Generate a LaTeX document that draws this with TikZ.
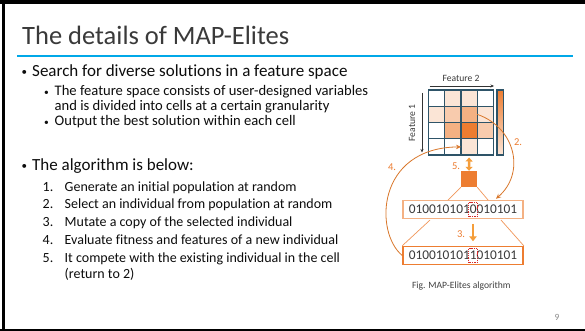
\documentclass[tikz,border=0pt]{standalone}
\usepackage{fontspec}
\setmainfont{Carlito}[Ligatures={NoCommon,NoRequired,NoContextual}]
\usetikzlibrary{arrows.meta,calc}

\definecolor{accent}{HTML}{ED7D31}
\definecolor{peachA}{HTML}{FBE5D6}
\definecolor{peachB}{HTML}{F8CBAD}
\definecolor{peachC}{HTML}{F4B183}
\definecolor{gridc}{HTML}{2E5468}
\definecolor{rulec}{HTML}{00A8E8}
\definecolor{titlec}{HTML}{3A3A3A}
\definecolor{bodyc}{HTML}{0D0D0D}
\definecolor{arrowc}{HTML}{D9772B}
\definecolor{blockc}{HTML}{F59E3B}
\definecolor{markc}{HTML}{D42A2A}
\definecolor{captc}{HTML}{404040}
\definecolor{pagec}{HTML}{8C8C8C}

\tikzset{
  txt/.style={anchor=base west, inner sep=0pt, text=bodyc},
  titletext/.style={txt, text=titlec, font=\fontsize{26.5}{30}\selectfont},
  lvlone/.style={txt, font=\fontsize{17}{20}\selectfont},
  lvltwo/.style={txt, font=\fontsize{14.6}{17}\selectfont},
  lvlnum/.style={txt, font=\fontsize{14}{17}\selectfont},
  dotone/.style={txt, font=\fontsize{11}{13}\selectfont},
  dottwo/.style={txt, font=\fontsize{9.5}{11}\selectfont},
  cell/.style={draw=gridc, line width=1.4pt, minimum size=16.25pt, inner sep=0pt, outer sep=0pt},
  bitbox/.style={minimum width=120pt, minimum height=18pt, inner sep=0pt, fill=white,
    line width=1.5pt, font=\fontsize{13.35}{15}\selectfont, text=titlec},
  smalllab/.style={inner sep=0pt, font=\fontsize{9.6}{11}\selectfont, text=titlec},
  steplab/.style={inner sep=0pt, font=\fontsize{10.5}{12}\selectfont, text=accent},
  axisarrow/.style={draw=black!80, line width=0.7pt, -{Stealth[length=3.5pt,width=3pt]}},
  flow/.style={draw=arrowc, line width=0.8pt, -{Stealth[length=5pt,width=4.5pt]}},
  blockarrow/.style={draw=blockc, line width=2.6pt, -{Triangle[width=7.5pt,length=5pt]}},
  dblarrow/.style={draw=blockc, line width=2.4pt, {Triangle[width=7pt,length=4pt]}-{Triangle[width=7pt,length=4pt]}},
  zoomline/.style={draw=accent!80, line width=0.7pt},
  markbox/.style={draw=markc, line width=0.6pt, dash pattern=on 1.3pt off 0.9pt},
}

\begin{document}
\begin{tikzpicture}[x=1pt, y=-1pt]
\useasboundingbox (0,0) rectangle (585,331);
\fill[white] (0,0) rectangle (585,331);

% slide frame and title rule
\fill[black] (0,0) rectangle (585,4);
\fill[black] (2,0) rectangle (4.5,331);
\fill[black] (0,328.5) rectangle (585,330.5);
\fill[rulec] (17,55) rectangle (573,57.5);

% title
\node[titletext] (title) at (22,45) {The details of MAP-Elites};

% first bullet group
\node[dotone] (b1dot) at (21.5,75.5) {•};
\node[lvlone] (b1txt) at (32,76.5) {Search for diverse solutions in a feature space};
\node[dottwo] (s1dot) at (44,95.3) {•};
\node[lvltwo] (s1txt) at (54.5,96) {The feature space consists of user-designed variables};
\node[lvltwo] (s1cont) at (54.5,111) {and is divided into cells at a certain granularity};
\node[dottwo] (s2dot) at (44,125.3) {•};
\node[lvltwo] (s2txt) at (54.5,126) {Output the best solution within each cell};

% second bullet group
\node[dotone] (b2dot) at (21.5,169.5) {•};
\node[lvlone] (b2txt) at (32,170.5) {The algorithm is below:};
\foreach \n/\yy/\t in {1/191.5/Generate an initial population at random,
                       2/208.5/Select an individual from population at random,
                       3/226.5/Mutate a copy of the selected individual,
                       4/244.5/Evaluate fitness and features of a new individual,
                       5/262.5/It compete with the existing individual in the cell}{
  \node[lvlnum] (num\n) at (42.5,\yy) {\n.};
  \node[lvlnum] (item\n) at (64.5,\yy) {\t};
}
\node[lvlnum] (item5b) at (64.5,278.5) {(return to 2)};

% feature map grid
\foreach \r/\c/\f in {1/1/white,1/2/peachA,1/3/peachA,1/4/white,
                      2/1/peachA,2/2/peachB,2/3/peachC,2/4/peachA,
                      3/1/white,3/2/peachC,3/3/accent,3/4/peachB,
                      4/1/white,4/2/white,4/3/peachA,4/4/white}{
  \node[cell, fill=\f] (c\r\c) at ({428.5+(\c-0.5)*16.25},{90+(\r-0.5)*16.25}) {};
}
\node[draw=gridc, line width=1.2pt, minimum width=6.5pt, minimum height=65pt, inner sep=0pt,
      top color=accent, bottom color=peachA] (bar) at (500.3,122.5) {};

% axes
\node[smalllab] (f2) at (461,78.5) {Feature 2};
\coordinate (f2a) at ($(c11.north west)+(1,-4)$);
\coordinate (f2b) at ($(c14.north east)+(0.5,-4)$);
\draw[axisarrow] (f2a) -- (f2b);
\node[smalllab, rotate=90] (f1) at (412,123) {Feature 1};
\coordinate (f1a) at ($(c11.north west)+(-6.5,3)$);
\coordinate (f1b) at ($(c41.south west)+(-6.5,-2.5)$);
\draw[axisarrow] (f1a) -- (f1b);

% selected individual and its bit strings
\node[fill=accent, minimum size=16pt, inner sep=0pt] (sq) at (469,179) {};
\node[bitbox, draw=peachC] (g1) at (463,209.5) {0100101010010101};
\node[bitbox, draw=accent] (g2) at (463,255.5) {0100101011010101};

\coordinate (z1) at ($(sq.south west)+(-13,13)$);
\coordinate (z2) at ($(sq.south east)+(11,13)$);
\draw[zoomline] (sq.south west) -- (z1);
\draw[zoomline] (sq.south east) -- (z2);
\coordinate (z3) at ($(g1.south)+(-33,0.8)$);
\coordinate (z4) at ($(g1.south)+(38,0.8)$);
\draw[zoomline] (z3) -- (g2.north west);
\draw[zoomline] (z4) -- (g2.north east);

% mutated bit
\draw[markbox] ($(g1.center)+(5.5,-7)$) rectangle ($(g1.center)+(14.5,7)$);
\draw[markbox] ($(g2.center)+(5.5,-7)$) rectangle ($(g2.center)+(14.5,7)$);

% algorithm steps
\coordinate (a5) at ($(c43.south)+(0,2.5)$);
\draw[dblarrow] (a5) -- (sq.north);
\node[steplab] (l5) at (456,166) {5.};

\coordinate (a3s) at ($(g1.south)+(10,4.5)$);
\coordinate (a3e) at ($(g2.north)+(10,-4.5)$);
\draw[blockarrow] (a3s) -- (a3e);
\node[steplab] (l3) at (461,234.5) {3.};

\coordinate (a2e) at ($(g1.north)+(33,-1)$);
\draw[flow] (c23.east) .. controls +(38,13) and +(30,-26) .. (a2e);
\node[steplab] (l2) at (518,142) {2.};

\draw[flow] (g2.west) .. controls +(-28,-23) and +(-85,1) .. (c43.west);
\node[steplab] (l4) at (392,167.5) {4.};

% caption and page number
\node[smalllab, text=captc] (cap) at (461.3,286) {Fig. MAP-Elites algorithm};
\node[inner sep=0pt, font=\fontsize{9.5}{11}\selectfont, text=pagec] (page) at (557,317) {9};
\end{tikzpicture}
\end{document}
